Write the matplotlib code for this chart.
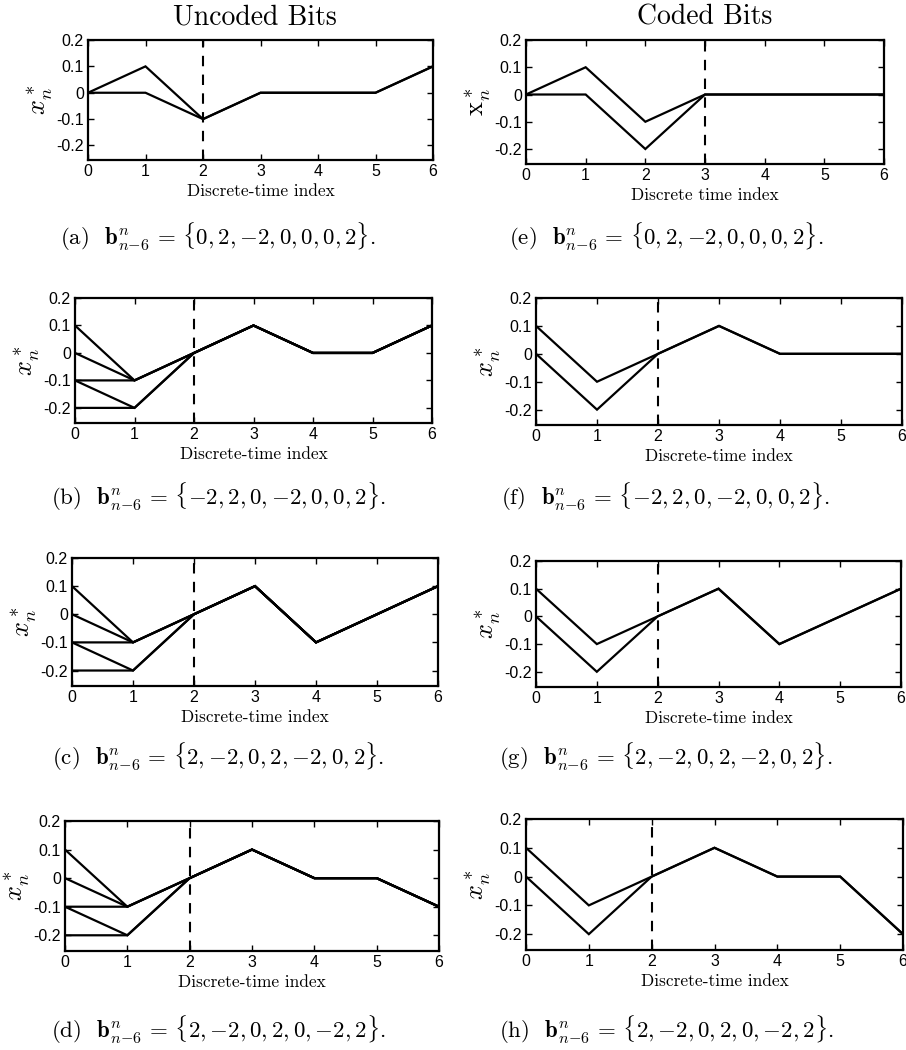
import matplotlib
matplotlib.use("Agg")
import matplotlib.pyplot as plt

plt.rcParams['mathtext.fontset'] = 'cm'
plt.rcParams['axes.unicode_minus'] = False

# -------------------------------------------------
# Trellis paths x*_n over the discrete-time index
# -------------------------------------------------
n_idx = [0, 1, 2, 3, 4, 5, 6]

paths_a = [[0, 0.1, -0.1, 0, 0, 0, 0.1],
           [0, 0, -0.1, 0, 0, 0, 0.1]]
paths_b = [[0.1, -0.1, 0, 0.1, 0, 0, 0.1],
           [0, -0.1, 0, 0.1, 0, 0, 0.1],
           [-0.1, -0.1, 0, 0.1, 0, 0, 0.1],
           [-0.1, -0.2, 0, 0.1, 0, 0, 0.1],
           [-0.2, -0.2, 0, 0.1, 0, 0, 0.1]]
paths_c = [[0.1, -0.1, 0, 0.1, -0.1, 0, 0.1],
           [0, -0.1, 0, 0.1, -0.1, 0, 0.1],
           [-0.1, -0.1, 0, 0.1, -0.1, 0, 0.1],
           [-0.1, -0.2, 0, 0.1, -0.1, 0, 0.1],
           [-0.2, -0.2, 0, 0.1, -0.1, 0, 0.1]]
paths_d = [[0.1, -0.1, 0, 0.1, 0, 0, -0.1],
           [0, -0.1, 0, 0.1, 0, 0, -0.1],
           [-0.1, -0.1, 0, 0.1, 0, 0, -0.1],
           [-0.1, -0.2, 0, 0.1, 0, 0, -0.1],
           [-0.2, -0.2, 0, 0.1, 0, 0, -0.1]]

paths_e = [[0, 0.1, -0.1, 0, 0, 0, 0],
           [0, 0, -0.2, 0, 0, 0, 0]]
paths_f = [[0.1, -0.1, 0, 0.1, 0, 0, 0],
           [0, -0.2, 0, 0.1, 0, 0, 0]]
paths_g = [[0.1, -0.1, 0, 0.1, -0.1, 0, 0.1],
           [0, -0.2, 0, 0.1, -0.1, 0, 0.1]]
paths_h = [[0.1, -0.1, 0, 0.1, 0, 0, -0.2],
           [0, -0.2, 0, 0.1, 0, 0, -0.2]]

# decision instant (dashed line) per panel
decision_a, decision_b, decision_c, decision_d = 2, 2, 2, 2
decision_e, decision_f, decision_g, decision_h = 3, 2, 2, 2

bits_a = [0, 2, -2, 0, 0, 0, 2]
bits_b = [-2, 2, 0, -2, 0, 0, 2]
bits_c = [2, -2, 0, 2, -2, 0, 2]
bits_d = [2, -2, 0, 2, 0, -2, 2]

yticks = [-0.2, -0.1, 0, 0.1, 0.2]
ytick_labels = ["-0.2", "-0.1", "0", "0.1", "0.2"]


def bits_tex(bits):
    # unary minus kept tight, as in TeX
    return ", ".join("{-}%d" % -v if v < 0 else "%d" % v for v in bits)


# -------------------------------------------------
# Figure layout (pixel boxes: left, top, right, bottom)
# -------------------------------------------------
W, H = 906, 1050
fig = plt.figure(figsize=(W / 100, H / 100), dpi=100)

panels = [
    ("a", paths_a, decision_a, bits_a, (88, 40, 433, 160), r"$x_n^*$", "Discrete-time index", 237),
    ("b", paths_b, decision_b, bits_b, (75, 298, 432, 423), r"$x_n^*$", "Discrete-time index", 497),
    ("c", paths_c, decision_c, bits_c, (72, 558, 438, 686), r"$x_n^*$", "Discrete-time index", 757),
    ("d", paths_d, decision_d, bits_d, (65, 821, 439, 951), r"$x_n^*$", "Discrete-time index", 1030),
    ("e", paths_e, decision_e, bits_a, (526, 40, 884, 164), r"$\mathrm{x}_n^*$", "Discrete time index", 237),
    ("f", paths_f, decision_f, bits_b, (536, 298, 902, 425), r"$x_n^*$", "Discrete-time index", 497),
    ("g", paths_g, decision_g, bits_c, (536, 561, 901, 687), r"$x_n^*$", "Discrete-time index", 757),
    ("h", paths_h, decision_h, bits_d, (526, 819, 903, 950), r"$x_n^*$", "Discrete-time index", 1030),
]

for tag, paths, t_dec, bits, box, ylab, xlab, cap_y in panels:
    l, t, r, b = box
    ax = fig.add_axes([l / W, 1 - b / H, (r - l) / W, (b - t) / H])
    for p in paths:
        ax.plot(n_idx, p, color='black', lw=1.6, solid_joinstyle='miter')
    ax.axvline(t_dec, color='black', lw=1.5, ls=(0, (5, 4)))
    ax.set_xlim(0, 6)
    ax.set_ylim(-0.255, 0.2)
    ax.set_xticks(n_idx)
    ax.set_yticks(yticks)
    ax.set_yticklabels(ytick_labels)
    ax.tick_params(direction='in', top=True, right=True, length=4, width=1,
                   labelsize=11.5, pad=3)
    for lbl in ax.get_xticklabels() + ax.get_yticklabels():
        lbl.set_fontfamily('Liberation Sans')
    for s in ax.spines.values():
        s.set_linewidth(1.6)
    ax.set_ylabel(ylab, fontsize=19, labelpad=1)
    ax.set_xlabel(xlab, fontsize=12.5, fontfamily='cmr10', labelpad=3)

    cx = 218 if l < W / 2 else 666
    fig.text(cx / W, 1 - cap_y / H,
             "(%s)  $\\mathbf{b}_{n{-}6}^{n} \\,=\\, \\{%s\\}$." % (tag, bits_tex(bits)),
             fontsize=16.5, fontfamily='cmr10', ha='center', va='center')

fig.text(255 / W, 1 - 17 / H, "Uncoded Bits", fontsize=20, fontfamily='cmr10',
         ha='center', va='center')
fig.text(705 / W, 1 - 17 / H, "Coded Bits", fontsize=20, fontfamily='cmr10',
         ha='center', va='center')

fig.savefig("out.png", dpi=100)
